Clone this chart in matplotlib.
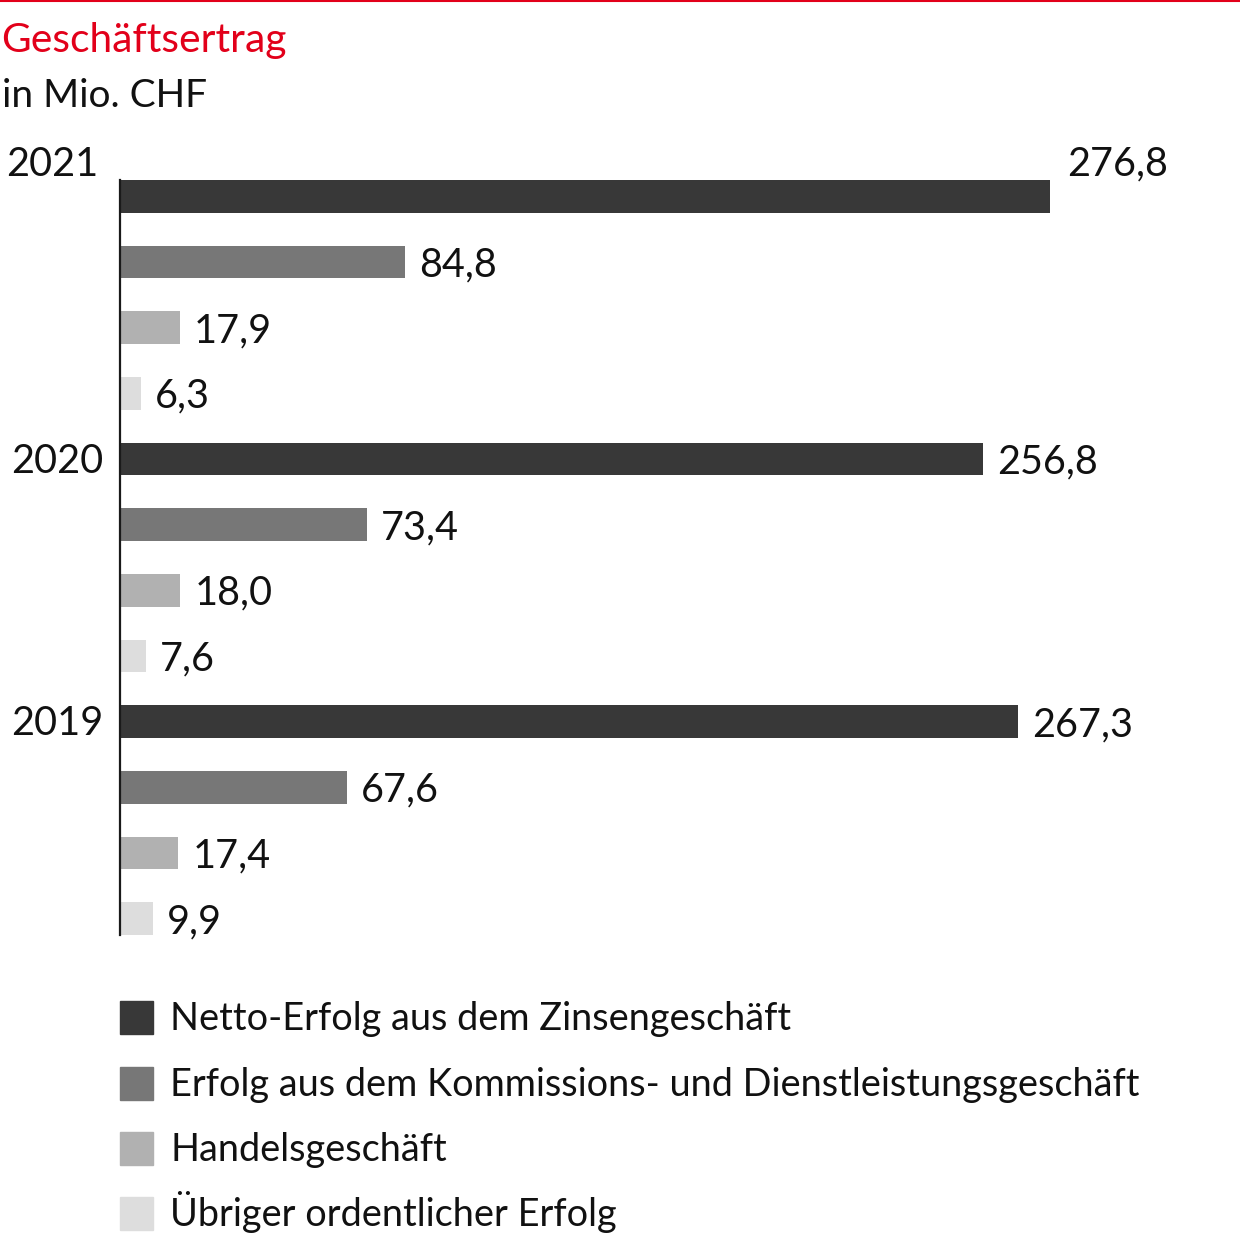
import matplotlib
matplotlib.use("Agg")
import matplotlib.pyplot as plt
from matplotlib.patches import Rectangle
from matplotlib.lines import Line2D

plt.rcParams['font.family'] = ['Lato', 'DejaVu Sans']

# ---- data ----
years = ["2021", "2020", "2019"]
categories = [
    "Netto-Erfolg aus dem Zinsengeschäft",
    "Erfolg aus dem Kommissions- und Dienstleistungsgeschäft",
    "Handelsgeschäft",
    "Übriger ordentlicher Erfolg",
]
values_2021 = [276.8, 84.8, 17.9, 6.3]
values_2020 = [256.8, 73.4, 18.0, 7.6]
values_2019 = [267.3, 67.6, 17.4, 9.9]
labels_2021 = ["276,8", "84,8", "17,9", "6,3"]
labels_2020 = ["256,8", "73,4", "18,0", "7,6"]
labels_2019 = ["267,3", "67,6", "17,4", "9,9"]

colors = ["#383838", "#777777", "#b1b1b1", "#dddddd"]
red = "#e2001a"
txt = "#111111"
W, H = 1240, 1242

fig = plt.figure(figsize=(W / 100, H / 100), dpi=100)

def fx(px):
    return px / W

def fy(py):
    return 1 - py / H

ax_left, ax_right, ax_top, ax_bottom = 120, 1240, 180, 935
ax = fig.add_axes([fx(ax_left), fy(ax_bottom), fx(ax_right - ax_left), (ax_bottom - ax_top) / H])

all_vals = [values_2021, values_2020, values_2019]
all_labels = [labels_2021, labels_2020, labels_2019]
fs_val = 28.5
fw = 'normal'
pos = 0
for yi, (vals, labs) in enumerate(zip(all_vals, all_labels)):
    for ci, (v, lab) in enumerate(zip(vals, labs)):
        ax.barh(pos, v, height=0.5, color=colors[ci], edgecolor='none')
        if yi == 0 and ci == 0:
            ax.annotate(lab, xy=(v, pos), xytext=(17, 32), textcoords='offset pixels',
                        ha='left', va='center', fontsize=fs_val, fontweight=fw, color=txt)
        else:
            ax.annotate(lab, xy=(v, pos), xytext=(14, -3), textcoords='offset pixels',
                        ha='left', va='center', fontsize=fs_val, fontweight=fw, color=txt)
        if ci == 0:
            if yi == 0:
                ax.annotate(years[yi], xy=(0, pos), xytext=(-22, 32), textcoords='offset pixels',
                            ha='right', va='center', fontsize=fs_val, fontweight=fw, color=txt)
            else:
                ax.annotate(years[yi], xy=(0, pos), xytext=(-17, -2), textcoords='offset pixels',
                            ha='right', va='center', fontsize=fs_val, fontweight=fw, color=txt)
        pos += 1

ax.set_xlim(0, (ax_right - ax_left) / 3.36)
ax.set_ylim(pos - 1 + 0.25, -0.25)
for s in ['top', 'right', 'bottom']:
    ax.spines[s].set_visible(False)
ax.spines['left'].set_linewidth(1.6)
ax.spines['left'].set_color('#1a1a1a')
ax.set_xticks([])
ax.set_yticks([])
ax.patch.set_alpha(0)

# top red rule
fig.add_artist(Line2D([0, 1], [fy(1), fy(1)], color=red, linewidth=1.5, transform=fig.transFigure))

# title + subtitle
fig.text(fx(1), fy(52), "Geschäftsertrag", color=red, fontsize=29.3, ha='left', va='baseline')
fig.text(fx(2), fy(107), "in Mio. CHF", color=txt, fontsize=28, fontweight=fw, ha='left', va='baseline')

# legend
leg_y = [1017, 1083, 1148, 1213]
for c, lab, yc in zip(colors, categories, leg_y):
    fig.add_artist(Rectangle((fx(120), fy(yc + 16.5)), fx(33), 33 / H, color=c,
                             transform=fig.transFigure))
    fig.text(fx(170), fy(yc + 13), lab, color=txt, fontsize=27.3, fontweight=fw,
             ha='left', va='baseline')

fig.savefig("out.png", dpi=100)
